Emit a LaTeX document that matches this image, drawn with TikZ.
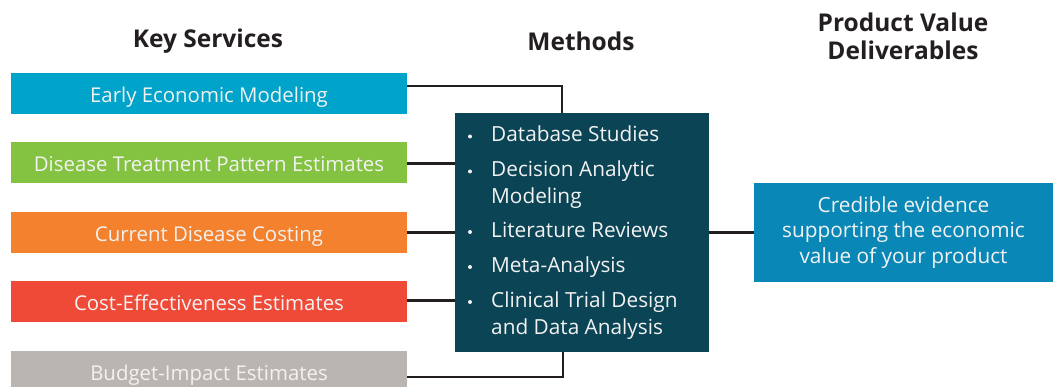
\documentclass[tikz,border=0pt]{standalone}
\usepackage{fontspec}
\setmainfont{Open Sans}
\definecolor{cCyan}{HTML}{00A3C9}
\definecolor{cGreen}{HTML}{84C341}
\definecolor{cOrange}{HTML}{F3812D}
\definecolor{cRed}{HTML}{EF4A38}
\definecolor{cGray}{HTML}{BAB5B0}
\definecolor{cTeal}{HTML}{0B4455}
\definecolor{cBlue}{HTML}{0988B8}
\definecolor{cInk}{HTML}{231F20}
\definecolor{cTxt}{HTML}{F2F2F2}
\begin{document}
\begin{tikzpicture}[x=1pt,y=-1pt,
  hdr/.style={font=\fontsize{24.5}{28}\selectfont\bfseries, text=cInk, align=center},
  svc/.style={minimum width=396pt, minimum height=41pt, inner sep=0pt, text=cTxt,
     text height=20pt, text depth=2.4pt,
     font=\fontsize{20.4}{22}\selectfont},
  item/.style={anchor=base west, text=cTxt, align=left, inner sep=0pt,
     font=\fontsize{20.8}{26.6}\selectfont},
  dot/.style={circle, fill=cTxt, inner sep=0pt, minimum size=4pt},
  conn/.style={draw=cInk, line width=2.5pt}]
\useasboundingbox (0,0) rectangle (1060,387);
\clip (0,0) rectangle (1060,387);

\node[hdr] (h1) at (208,41) {Key Services};
\node[hdr] (h2) at (581,41) {Methods};
\node[hdr] (h3) at (903,36) {Product Value\\Deliverables};

\node[svc, fill=cCyan] (s1) at (209,93.5) {Early Economic Modeling};
\node[svc, fill=cGreen] (s2) at (209,162.5) {Disease Treatment Pattern Estimates};
\node[svc, fill=cOrange] (s3) at (209,232.5) {Current Disease Costing};
\node[svc, fill=cRed] (s4) at (209,301.5) {Cost-Effectiveness Estimates};
\node[svc, fill=cGray] (s5) at (209,371.5) {Budget-Impact Estimates};

\node[fill=cTeal, minimum width=254pt, minimum height=239pt, inner sep=0pt] (m) at (582,232.5) {};
\node[fill=cBlue, minimum width=299pt, minimum height=99pt, inner sep=0pt, text=cTxt,
  align=center, font=\fontsize{20.8}{25.8}\selectfont] (d) at (903.5,232.5)
  {Credible evidence\\supporting the economic\\value of your product};

\node[item] (i1) at (491,142) {Database Studies};
\node[item] (i2) at (491,203.6) {Decision Analytic\\Modeling};
\node[item] (i3) at (491,237.5) {Literature Reviews};
\node[item] (i4) at (491,272.5) {Meta-Analysis};
\node[item] (i5) at (491,334.1) {Clinical Trial Design\\and Data Analysis};
\node[dot] (b1) at (470,136.5) {};
\node[dot] (b2) at (470,171.5) {};
\node[dot] (b3) at (470,232) {};
\node[dot] (b4) at (470,267) {};
\node[dot] (b5) at (470,302) {};

\draw[conn] ([yshift=7.5pt]s1.east) -| ([xshift=-20pt]m.north);
\draw[conn] ([yshift=-1pt]s2.east) -- ([yshift=-1pt]s2.east -| m.west);
\draw[conn] (s3.east) -- (s3.east -| m.west);
\draw[conn] ([yshift=1pt]s4.east) -- ([yshift=1pt]s4.east -| m.west);
\draw[conn] ([yshift=-5.5pt]s5.east) -| ([xshift=-19pt]m.south);
\draw[conn] (m.east |- d.west) -- (d.west);
\end{tikzpicture}
\end{document}
